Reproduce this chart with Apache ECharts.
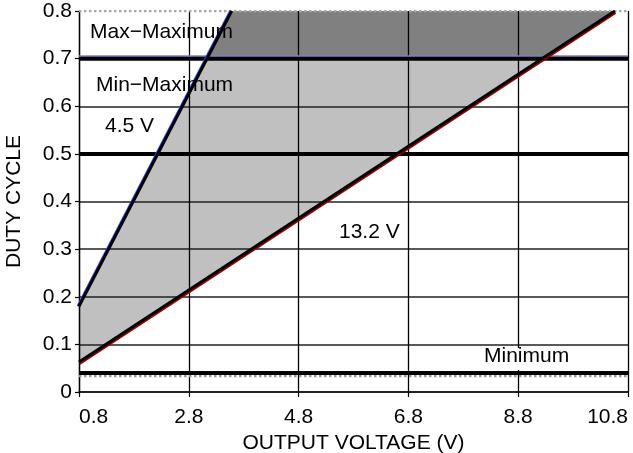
<!DOCTYPE html>
<html>
<head>
<meta charset="utf-8">
<script src="https://cdn.jsdelivr.net/npm/echarts@6/dist/echarts.min.js"></script>
<style>
html,body{margin:0;padding:0;background:#fff;}
#chart{width:633px;height:453px;}
</style>
</head>
<body>
<div id="chart"></div>
<script>
// ---- data ----
const voltageRange = [0.8, 10.8];            // x extent (V)
const xTickValues = [0.8, 2.8, 4.8, 6.8, 8.8, 10.8];
const yTickValues = [0, 0.1, 0.2, 0.3, 0.4, 0.5, 0.6, 0.7, 0.8];
const line4p5V  = [[0.8, 0.18], [3.58, 0.8]];    // 4.5 V input line
const line13p2V = [[0.8, 0.063], [10.56, 0.8]];  // 13.2 V input line
const maxMaximum = 0.8;   // top limit (dotted)
const minMaximum = 0.7;   // thick line
const midLevel   = 0.5;   // thick line
const minimumLvl = 0.04;  // minimum duty cycle
const lightRegion = [[0.8, 0.063], [9.22, 0.7], [3.13, 0.7], [0.8, 0.18]];
const darkRegion  = [[3.13, 0.7], [9.22, 0.7], [10.56, 0.8], [3.58, 0.8]];
const labels = ['Max\u2212Maximum', 'Min\u2212Maximum', '4.5 V', '13.2 V', 'Minimum'];

const FONT = '"Liberation Sans", Arial, Helvetica, sans-serif';
const FS = 21;

function hLine(y) { return [[voltageRange[0], y], [voltageRange[1], y]]; }
function polySeries(region, fill) {
  return {
    type: 'custom', z: -1, silent: true,
    renderItem: function (params, api) {
      return { type: 'polygon', shape: { points: region.map(p => api.coord(p)) },
               style: { fill: fill } };
    },
    data: [0]
  };
}

const chart = echarts.init(document.getElementById('chart'));
const gridColors = yTickValues.map((v, i) => i === yTickValues.length - 1 ? 'rgba(0,0,0,0)' : '#222');

chart.setOption({
  animation: false,
  backgroundColor: '#fff',
  grid: { left: 79, right: 5, top: 11, bottom: 61, outerBoundsMode: 'none', containLabel: false },
  xAxis: {
    type: 'value', min: voltageRange[0], max: voltageRange[1], interval: 2,
    name: 'OUTPUT VOLTAGE (V)', nameLocation: 'middle', nameGap: 31,
    nameTextStyle: { fontFamily: FONT, fontSize: FS, color: '#000' },
    axisLine: { lineStyle: { color: '#111', width: 1.5 } },
    axisTick: { show: true, length: 5, inside: false, lineStyle: { color: '#000', width: 1.2 } },
    axisLabel: { fontFamily: FONT, fontSize: FS, color: '#000', margin: 15,
                 alignMinLabel: 'left', alignMaxLabel: 'right' },
    splitLine: { show: true, lineStyle: { color: '#000', width: 1.3 } }
  },
  yAxis: {
    type: 'value', min: 0, max: 0.8, interval: 0.1,
    name: 'DUTY CYCLE', nameLocation: 'middle', nameGap: 54, nameRotate: 90,
    nameTextStyle: { fontFamily: FONT, fontSize: FS, color: '#000' },
    axisLine: { show: true, lineStyle: { color: '#000', width: 1.3 } },
    axisTick: { show: true, length: 4, lineStyle: { color: '#000', width: 1.2 } },
    axisLabel: { fontFamily: FONT, fontSize: FS, color: '#000', margin: 7 },
    splitLine: { show: true, lineStyle: { color: gridColors, width: 1.6 } }
  },
  series: [
    polySeries(lightRegion, '#c0c0c0'),
    polySeries(darkRegion, '#808080'),
    { type: 'line', data: hLine(maxMaximum), symbol: 'none', z: 3,
      lineStyle: { color: '#a8a8a8', width: 2.5, type: 'dotted' } },
    { type: 'line', data: hLine(minimumLvl), symbol: 'none', z: 3,
      lineStyle: { color: '#999', width: 2.5, type: 'dotted', shadowColor: '#999', shadowOffsetY: 3, shadowBlur: 0 } },
    { type: 'line', data: hLine(minimumLvl), symbol: 'none', z: 4,
      lineStyle: { color: '#000', width: 4 } },
    { type: 'line', data: hLine(minMaximum), symbol: 'none', z: 4,
      lineStyle: { color: '#000', width: 4, shadowColor: '#8080c8', shadowOffsetY: -1.5, shadowBlur: 0 } },
    { type: 'line', data: hLine(midLevel), symbol: 'none', z: 4,
      lineStyle: { color: '#000', width: 4 } },
    { type: 'line', data: line4p5V, symbol: 'none', z: 5,
      lineStyle: { color: '#000', width: 3, shadowColor: '#3040ff', shadowOffsetX: -1, shadowBlur: 0 } },
    { type: 'line', data: line13p2V, symbol: 'none', z: 5,
      lineStyle: { color: '#000', width: 3, shadowColor: '#9a0000', shadowOffsetX: 0.5, shadowOffsetY: 1.5, shadowBlur: 0 } }
  ],
  graphic: [
    { type: 'text', left: 90, top: 22, z: 100, silent: true,
      style: { text: labels[0], font: FS + 'px ' + FONT, fill: '#000' } },
    { type: 'text', left: 96, top: 75, z: 100, silent: true,
      style: { text: labels[1], font: FS + 'px ' + FONT, fill: '#000' } },
    { type: 'text', left: 105, top: 116, z: 100, silent: true,
      style: { text: labels[2], font: FS + 'px ' + FONT, fill: '#000' } },
    { type: 'rect', shape: { x: 332, y: 220, width: 64, height: 28 }, z: 99, silent: true,
      style: { fill: '#fff' } },
    { type: 'text', left: 339, top: 222, z: 100, silent: true,
      style: { text: labels[3], font: FS + 'px ' + FONT, fill: '#000' } },
    { type: 'rect', shape: { x: 478, y: 348, width: 96, height: 22 }, z: 99, silent: true,
      style: { fill: '#fff' } },
    { type: 'text', left: 484, top: 346, z: 100, silent: true,
      style: { text: labels[4], font: FS + 'px ' + FONT, fill: '#000' } }
  ]
});
</script>
</body>
</html>
